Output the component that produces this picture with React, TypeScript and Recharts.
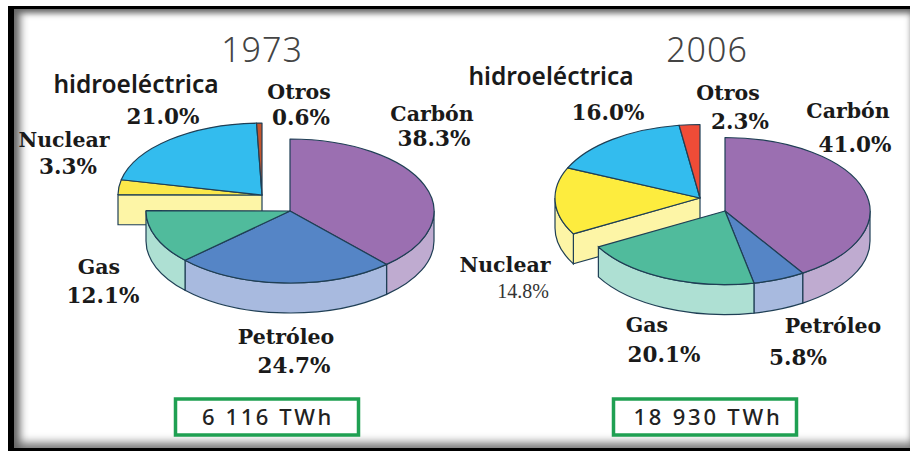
import React from 'react';
import { PieChart, Pie } from 'recharts';

const categories = ['Carbón', 'Petróleo', 'Gas', 'Nuclear', 'hidroeléctrica', 'Otros'];
const values1973 = [38.3, 24.7, 12.1, 3.3, 21.0, 0.6];
const values2006 = [41.0, 5.8, 20.1, 14.8, 16.0, 2.3];
const titles = ['1973', '2006'];
const totals = ['6 116 TWh', '18 930 TWh'];
const detached = [false, false, false, true, true, true];

const topColors1973 = ['#9b6fb1', '#5585c6', '#50bb9c', '#fbe84a', '#33bcee', '#c4552d'];
const topColors2006 = ['#9b6fb1', '#5585c6', '#50bb9c', '#fdec3e', '#33bcee', '#ef4c37'];
const wallColors = ['#bfabd0', '#a8badf', '#aee0d3', '#fdf5a6', '#33bcee', '#ef4c37'];
const OUTLINE = '#1f3f55';
const DEPTH = 30;

type Row = { name: string; value: number; top: string; wall: string; off: boolean };
const rows = (values: number[], tops: string[]): Row[] =>
  values.map((value, i) => ({ name: categories[i], value, top: tops[i], wall: wallColors[i], off: detached[i] }));

const data1973 = rows(values1973, topColors1973);
const data2006 = rows(values2006, topColors2006);

const makeShape = (wanted: boolean, dx: number, dy: number, tilt: number) => (p: any) => {
  const row = p.payload ?? p;
  const off = row.off ?? p.off;
  if (off !== wanted) return <g />;
  const rx = p.outerRadius;
  const ry = rx * tilt;
  const cx = p.cx + dx;
  const cy = p.cy + dy;
  const t1 = 90 - p.startAngle;
  const t2 = 90 - p.endAngle;
  const pt = (t: number) => {
    const a = (t * Math.PI) / 180;
    return [cx + rx * Math.sin(a), cy - ry * Math.cos(a)];
  };
  const [sx, sy] = pt(t1);
  const [ex, ey] = pt(t2);
  const large = t2 - t1 > 180 ? 1 : 0;
  const topPath = `M${cx},${cy} L${sx},${sy} A${rx},${ry} 0 ${large} 1 ${ex},${ey} Z`;
  const lo = Math.max(t1, 90);
  const hi = Math.min(t2, 270);
  let wall = null;
  if (lo < hi) {
    const [ax, ay] = pt(lo);
    const [bx, by] = pt(hi);
    wall = (
      <path
        d={`M${ax},${ay} A${rx},${ry} 0 0 1 ${bx},${by} L${bx},${by + DEPTH} A${rx},${ry} 0 0 0 ${ax},${ay + DEPTH} Z`}
        fill={row.wall}
        stroke={OUTLINE}
        strokeWidth={1.2}
      />
    );
  }
  const face =
    wanted && row.name === 'Nuclear' ? (
      <path
        d={`M${cx},${cy} L${sx},${sy} L${sx},${sy + DEPTH} L${cx},${cy + DEPTH} Z`}
        fill={row.wall}
        stroke={OUTLINE}
        strokeWidth={1.2}
      />
    ) : null;
  return (
    <g>
      {face}
      {wall}
      <path d={topPath} fill={row.top} stroke={OUTLINE} strokeWidth={1.2} strokeLinejoin="round" />
    </g>
  );
};

const serif = '"DejaVu Serif", serif';
const sans = '"Noto Sans", "Liberation Sans", sans-serif';

const Label = ({ x, y, text, size = 21.5, family = serif, weight = 700, color = '#1a1a1a', spacing = 0 }: any) => (
  <text x={x} y={y} textAnchor="middle" fontFamily={family} fontSize={size} fontWeight={weight} fill={color} letterSpacing={spacing}>
    {text}
  </text>
);

const pct = (v: number) => `${v.toFixed(1)}%`;

// label anchor points per category: [name x, name y, value x, value y]
const labelPos1973 = [
  [432, 121, 434, 146],
  [286, 344, 294, 373],
  [99, 274, 103, 303],
  [64, 147, 68, 174],
  [136, 93, 163, 124],
  [299, 99, 301, 125],
];
const labelPos2006 = [
  [848, 118, 855, 152],
  [833, 333, 798, 365],
  [647, 332, 664, 362],
  [505, 272, 523, 298],
  [551, 85, 608, 120],
  [728, 100, 740, 129],
];

const LabelSet = ({ values, pos, thinIndex = -1 }: { values: number[]; pos: number[][]; thinIndex?: number }) => (
  <g>
    {categories.map((c, i) => {
      const hydro = i === 4;
      return (
        <g key={c}>
          <Label x={pos[i][0]} y={pos[i][1]} text={c} family={hydro ? sans : serif} size={hydro ? 24.5 : 20.5} weight={hydro ? 600 : 700} />
          {i === thinIndex ? (
            <Label x={pos[i][2]} y={pos[i][3]} text={pct(values[i])} family='"Liberation Serif", serif' size={20} weight={400} color="#333" />
          ) : (
            <Label x={pos[i][2]} y={pos[i][3]} text={pct(values[i])} />
          )}
        </g>
      );
    })}
  </g>
);

export default function App() {
  const common = { dataKey: 'value', startAngle: 90, endAngle: -270, isAnimationActive: false, label: false, labelLine: false, stroke: OUTLINE, innerRadius: 0 } as const;
  return (
    <div style={{ position: 'absolute', left: 0, top: 0, width: 910, height: 451, background: '#fff', overflow: 'hidden' }}>
      <div style={{ position: 'absolute', left: 8, top: 6, width: 902, height: 445, boxSizing: 'border-box', borderTop: '3px solid #000', borderLeft: '6px solid #000', borderBottom: '3px solid #000', boxShadow: 'inset 9px 0 8px -3px #666, inset 0 7px 6px -3px #666, inset 0 -9px 8px -3px #888' }} />
      <div style={{ position: 'absolute', left: 0, top: 0 }}>
        <PieChart width={910} height={451} margin={{ top: 0, right: 0, bottom: 0, left: 0 }}>
          <Pie {...common} data={data1973} cx={290} cy={211} outerRadius={144} shape={makeShape(true, -28, -16, 0.5)} />
          <Pie {...common} data={data1973} cx={290} cy={211} outerRadius={144} shape={makeShape(false, 0, 0, 0.5)} />
          <Pie {...common} data={data2006} cx={725} cy={211} outerRadius={145} shape={makeShape(true, -25, -13, 0.507)} />
          <Pie {...common} data={data2006} cx={725} cy={211} outerRadius={145} shape={makeShape(false, 0, 0, 0.507)} />
        </PieChart>
      </div>
      <svg width={910} height={451} style={{ position: 'absolute', left: 0, top: 0, pointerEvents: 'none' }}>
        <Label x={262} y={62} text={titles[0]} size={34} family={sans} weight={300} color="#444" spacing={1} />
        <Label x={707} y={62} text={titles[1]} size={34} family={sans} weight={300} color="#444" spacing={1} />
        <LabelSet values={values1973} pos={labelPos1973} />
        <LabelSet values={values2006} pos={labelPos2006} thinIndex={3} />
        <rect x={175.5} y={399} width={183} height={36} fill="#fff" stroke="#1fa052" strokeWidth={3.5} />
        <rect x={613.5} y={399} width={183} height={36} fill="#fff" stroke="#1fa052" strokeWidth={3.5} />
        <Label x={268} y={425} text={totals[0]} size={22} family={sans} weight={500} color="#222" spacing={2.6} />
        <Label x={708} y={425} text={totals[1]} size={22} family={sans} weight={500} color="#222" spacing={2.8} />
      </svg>
    </div>
  );
}
